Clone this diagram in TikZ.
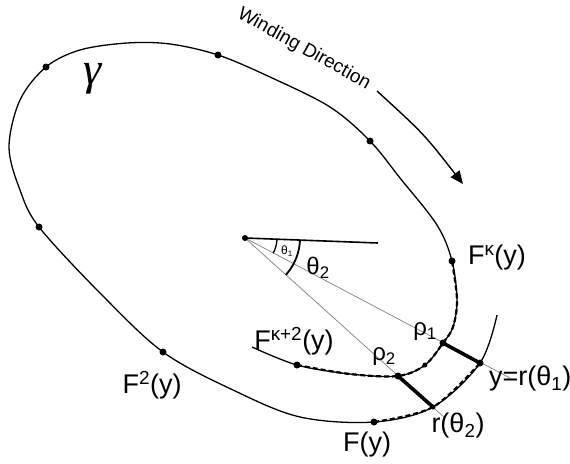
\documentclass[tikz,border=0pt]{standalone}
\usepackage{fontspec}
\setmainfont{Liberation Sans}
\newfontfamily\greekserif{Liberation Serif}
\usetikzlibrary{arrows.meta}

\begin{document}
\begin{tikzpicture}[x=1pt, y=-1pt,
  orbit/.style={circle, fill, inner sep=0pt, minimum size=7pt},
  spiral/.style={line width=1.3pt, line join=round},
  smear/.style={line width=2.2pt, dash pattern=on 5pt off 3pt},
  link/.style={line width=3.6pt},
  ray/.style={draw=black!45, line width=0.8pt},
  lbl/.style={inner sep=0pt, font=\fontsize{27}{30}\selectfont},
  sml/.style={inner sep=0pt, font=\fontsize{24}{26}\selectfont},
  wind/.style={line width=1.4pt, -{Triangle[length=13pt, width=11pt]}}
]
\useasboundingbox (0,0) rectangle (570,463);

\coordinate (c) at (245,238);
\coordinate (hor) at (378,243);
\coordinate (ray1) at (510,378);
\coordinate (ray2) at (445,418);
\coordinate (fk2) at (297,365);
\coordinate (p2) at (398,376);
\coordinate (q) at (425,365);
\coordinate (p1) at (443,343);
\coordinate (fk) at (452,261);
\coordinate (d6) at (370,141);
\coordinate (d5) at (218,55);
\coordinate (d4) at (46,67);
\coordinate (d3) at (39,227);
\coordinate (f2) at (163,352);
\coordinate (fy) at (374,422);
\coordinate (r2) at (433,407);
\coordinate (y) at (480,363);
\coordinate (w1) at (377,91);
\coordinate (w2) at (463,184);

\draw[ray] (c) -- (ray1);
\draw[ray] (c) -- (ray2);

\draw[spiral] plot[smooth, tension=0.55] coordinates {(252,347) (fk2) (350,374) (p2) (q) (p1)
  (453,327) (457,300) (fk) (437,225) (400,178) (d6) (330,107) (270,77) (d5) (170,44) (127,43)
  (80,50) (d4) (20,100) (9,147) (20,190) (d3) (100,293) (f2) (233,390) (300,417) (fy) (r2) (y)
  (497,315)};
\draw[smear] plot[smooth, tension=0.55] coordinates {(fk2) (350,374) (p2) (q) (p1) (453,327) (457,300) (fk)};
\draw[smear] plot[smooth, tension=0.55] coordinates {(fy) (r2) (y)};

\draw[link] (p1) -- (y);
\draw[link] (p2) -- (r2);

\draw[line width=1.6pt] (c) -- (hor);
\draw[line width=1.3pt, shift={(c)}] plot[domain=2:28, samples=15] (\x:32);
\draw[line width=1.8pt, shift={(c)}] plot[domain=2:42, samples=20] (\x:55);

\draw[wind] (w1) .. controls (424,134) .. (w2);

\foreach \p in {fk2,p2,p1,fk,d6,d5,d4,d3,f2,fy,y}
  \node[orbit] (\p-dot) at (\p) {};
\node[orbit, minimum size=5pt] (q-dot) at (q) {};
\node[orbit, minimum size=5pt] (r2-dot) at (r2) {};
\node[orbit, minimum size=6pt] (c-dot) at (c) {};

\node[inner sep=0pt, font=\fontsize{46}{48}\selectfont\greekserif\itshape] (gamma) at (93,79) {γ};
\node[inner sep=0pt, rotate=-29, font=\fontsize{19}{21}\selectfont] (wlabel) at (304,49) {Winding Direction};
\node[lbl] (fklabel) at (497,258) {F\textsuperscript{κ}(y)};
\node[lbl] (fk2label) at (294,341) {F\textsuperscript{κ+2}(y)};
\node[lbl] (f2label) at (152,385) {F\textsuperscript{2}(y)};
\node[lbl] (fylabel) at (367,445) {F(y)};
\node[lbl] (r2label) at (458,426) {r(θ\textsubscript{2})};
\node[lbl, anchor=west] (ylabel) at (489,379) {y=r(θ\textsubscript{1})};
\node[sml] (rho1) at (425,332) {ρ\textsubscript{1}};
\node[sml] (rho2) at (384,357) {ρ\textsubscript{2}};
\node[sml] (th2) at (318,268) {θ\textsubscript{2}};
\node[inner sep=0pt, font=\fontsize{12}{13}\selectfont] (th1) at (287,251) {θ\textsubscript{1}};
\end{tikzpicture}
\end{document}
